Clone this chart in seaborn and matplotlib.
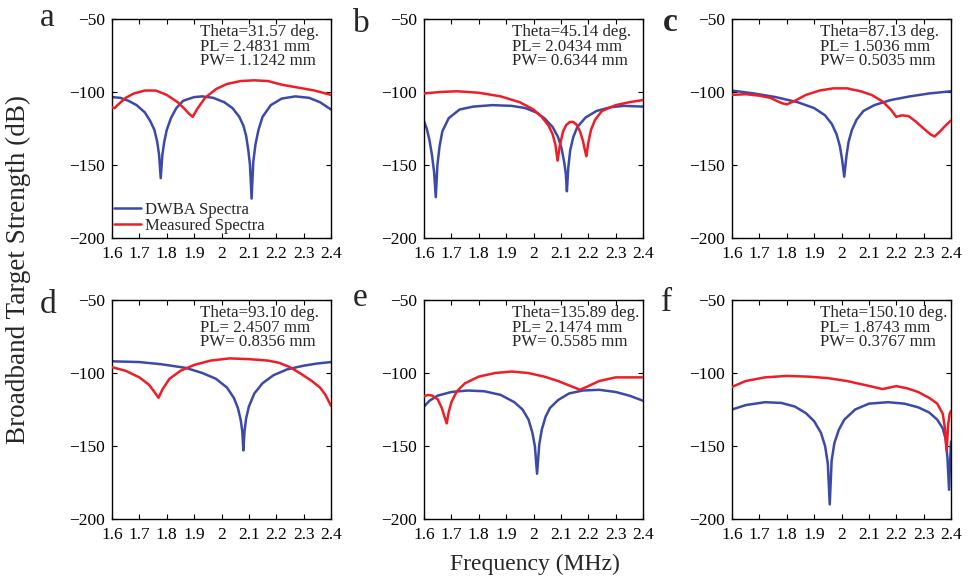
import numpy as np
import pandas as pd
import matplotlib
matplotlib.use("Agg")
import matplotlib.pyplot as plt
import seaborn as sns

# ---------------- data ----------------
panel_letters = ["a", "b", "c", "d", "e", "f"]
theta_deg = ["31.57", "45.14", "87.13", "93.10", "135.89", "150.10"]
pl_mm = ["2.4831", "2.0434", "1.5036", "2.4507", "2.1474", "1.8743"]
pw_mm = ["1.1242", "0.6344", "0.5035", "0.8356", "0.5585", "0.3767"]

x_ticks = [1.6, 1.7, 1.8, 1.9, 2.0, 2.1, 2.2, 2.3, 2.4]
x_tick_labels = ["1.6", "1.7", "1.8", "1.9", "2", "2.1", "2.2", "2.3", "2.4"]
y_ticks = [-200, -150, -100, -50]
y_tick_labels = ["\u2212200", "\u2212150", "\u2212100", "\u221250"]

# panel a
fa_dwba = [1.60, 1.63, 1.66, 1.69, 1.72, 1.74, 1.755, 1.765, 1.772, 1.778, 1.784, 1.791, 1.80, 1.815, 1.835, 1.86, 1.90, 1.93, 1.97, 2.01, 2.04, 2.065, 2.08, 2.09, 2.098, 2.104, 2.110, 2.116, 2.124, 2.135, 2.15, 2.18, 2.22, 2.27, 2.32, 2.36, 2.40]
ta_dwba = [-103.5, -104, -106, -109, -114, -120, -126, -134, -143, -159, -143, -134, -126, -118, -111, -106, -103.5, -103, -104, -107, -111, -117, -123, -130, -140, -150, -173, -148, -136, -126, -117, -109, -104.5, -103, -104, -107, -112]
fa_meas = [1.60, 1.61, 1.62, 1.65, 1.68, 1.72, 1.76, 1.80, 1.84, 1.865, 1.882, 1.895, 1.91, 1.94, 1.98, 2.02, 2.07, 2.12, 2.17, 2.22, 2.28, 2.34, 2.40]
ta_meas = [-110.5, -111, -109, -104, -101, -99, -99, -102, -107, -111.5, -115, -117, -112, -104, -98, -94.5, -92.5, -92, -92.5, -95, -97, -99, -102]

# panel b
fb_dwba = [1.60, 1.61, 1.62, 1.629, 1.637, 1.643, 1.649, 1.657, 1.667, 1.69, 1.73, 1.78, 1.85, 1.92, 1.97, 2.01, 2.04, 2.07, 2.09, 2.103, 2.112, 2.118, 2.122, 2.127, 2.134, 2.145, 2.16, 2.19, 2.23, 2.28, 2.33, 2.40]
tb_dwba = [-120, -125, -133, -143, -155, -172, -150, -137, -127, -118, -112, -110, -109, -109.5, -111, -114, -118, -124, -131, -139, -148, -156, -168, -152, -140, -131, -124, -117.5, -113, -110.5, -109.5, -110]
fb_meas = [1.60, 1.66, 1.72, 1.80, 1.88, 1.95, 2.00, 2.03, 2.055, 2.07, 2.08, 2.088, 2.096, 2.108, 2.12, 2.133, 2.145, 2.158, 2.17, 2.18, 2.188, 2.193, 2.20, 2.21, 2.225, 2.25, 2.30, 2.35, 2.40]
tb_meas = [-101, -100, -99.5, -100.5, -103, -107, -112, -117, -123, -129, -136, -147, -137, -127, -122.5, -120.5, -120.5, -122.5, -127, -133, -140, -144, -135, -126, -119, -113, -109, -107, -105.5]

# panel c
fc_dwba = [1.60, 1.68, 1.76, 1.84, 1.90, 1.94, 1.965, 1.982, 1.994, 2.002, 2.010, 2.018, 2.026, 2.038, 2.055, 2.08, 2.12, 2.18, 2.25, 2.32, 2.40]
tc_dwba = [-99, -101, -103.5, -107, -111, -116, -122, -129, -137, -146, -158, -144, -134, -126, -119, -113, -109, -105.5, -103, -101, -99.5]
fc_meas = [1.60, 1.65, 1.70, 1.74, 1.78, 1.80, 1.83, 1.87, 1.92, 1.97, 2.02, 2.07, 2.11, 2.15, 2.18, 2.20, 2.22, 2.245, 2.27, 2.30, 2.325, 2.34, 2.36, 2.38, 2.40]
tc_meas = [-102, -101.5, -102.5, -104, -107.5, -108.5, -106, -102, -99, -97.5, -97.5, -99.5, -102, -106.5, -112, -117, -116, -116.5, -120, -125, -129, -130.5, -127, -123, -119.5]

# panel d
fd_dwba = [1.60, 1.70, 1.78, 1.87, 1.93, 1.98, 2.02, 2.045, 2.06, 2.07, 2.076, 2.080, 2.084, 2.090, 2.10, 2.12, 2.15, 2.19, 2.24, 2.30, 2.35, 2.40]
td_dwba = [-92, -92.5, -94, -96.5, -100, -104, -110, -117, -124, -132, -140, -153, -140, -131, -123, -114, -107, -101.5, -97.5, -95, -93.5, -92.5]
fd_meas = [1.60, 1.65, 1.70, 1.735, 1.755, 1.770, 1.785, 1.81, 1.85, 1.90, 1.96, 2.03, 2.10, 2.17, 2.21, 2.25, 2.29, 2.33, 2.36, 2.38, 2.40]
td_meas = [-96, -98.5, -103, -108, -113, -117, -111, -104, -98.5, -94.5, -91.5, -90, -90.5, -91.5, -93, -96, -100.5, -105.5, -110, -115, -122.5]

# panel e
fe_dwba = [1.60, 1.62, 1.65, 1.70, 1.76, 1.82, 1.88, 1.93, 1.96, 1.982, 1.996, 2.005, 2.013, 2.021, 2.030, 2.044, 2.06, 2.09, 2.13, 2.18, 2.24, 2.30, 2.35, 2.40]
te_dwba = [-123, -119, -115.5, -113, -112, -112.5, -115, -120, -125, -132, -141, -150, -169, -149, -139, -130, -124, -118.5, -114, -112, -111.5, -113, -115.5, -119]
fe_meas = [1.60, 1.615, 1.63, 1.65, 1.665, 1.675, 1.683, 1.69, 1.70, 1.72, 1.75, 1.80, 1.86, 1.92, 1.98, 2.04, 2.09, 2.13, 2.17, 2.20, 2.24, 2.30, 2.40]
te_meas = [-116, -115, -115.5, -118, -124, -130, -134.5, -127, -120, -112.5, -107, -102.5, -100, -99, -100, -102.5, -105.5, -108.5, -111.5, -109, -105.5, -103, -103]

# panel f
ff_dwba = [1.60, 1.65, 1.72, 1.78, 1.83, 1.87, 1.90, 1.925, 1.94, 1.950, 1.957, 1.964, 1.974, 1.99, 2.01, 2.05, 2.10, 2.17, 2.23, 2.28, 2.32, 2.35, 2.37, 2.38, 2.387, 2.393, 2.397, 2.40]
tf_dwba = [-125, -122, -120, -120.5, -123, -127.5, -133, -141, -150, -162, -190, -160, -148, -139, -132, -125, -121, -120, -121, -123.5, -127, -132, -138, -145, -158, -180, -160, -147]
ff_meas = [1.60, 1.65, 1.72, 1.80, 1.88, 1.95, 2.02, 2.08, 2.15, 2.20, 2.24, 2.28, 2.32, 2.35, 2.37, 2.378, 2.384, 2.39, 2.395, 2.40]
tf_meas = [-109.5, -105.5, -103, -102, -102.5, -103.5, -105.5, -108, -111, -109, -110.5, -113, -117, -121, -128, -138, -153, -135, -128, -126]

dwba_freqs = [fa_dwba, fb_dwba, fc_dwba, fd_dwba, fe_dwba, ff_dwba]
dwba_ts = [ta_dwba, tb_dwba, tc_dwba, td_dwba, te_dwba, tf_dwba]
meas_freqs = [fa_meas, fb_meas, fc_meas, fd_meas, fe_meas, ff_meas]
meas_ts = [ta_meas, tb_meas, tc_meas, td_meas, te_meas, tf_meas]

BLUE = "#3b4aa8"
RED = "#ee1d26"

# ---------------- style ----------------
sns.set_theme(style="ticks")
plt.rcParams["font.family"] = ["Liberation Serif", "DejaVu Serif"]
plt.rcParams["axes.unicode_minus"] = True

fig = plt.figure(figsize=(9.73, 5.77), dpi=100)

W, H = 973.0, 577.0
lefts = [112, 424, 732]
tops = [19, 300]
aw, ah = 219, 219
# panel-letter positions (left x, baseline y) in pixels
letter_pos = [(40, 26), (353, 32), (663, 31), (40, 313), (353, 306), (661, 311)]

for i in range(6):
    r, c = divmod(i, 3)
    ax = fig.add_axes([lefts[c] / W, 1 - (tops[r] + ah) / H, aw / W, ah / H])
    df_d = pd.DataFrame({"freq": dwba_freqs[i], "ts": dwba_ts[i]})
    df_m = pd.DataFrame({"freq": meas_freqs[i], "ts": meas_ts[i]})
    sns.lineplot(data=df_d, x="freq", y="ts", ax=ax, color=BLUE, lw=1.8,
                 estimator=None, sort=False, label="DWBA Spectra", zorder=2)
    sns.lineplot(data=df_m, x="freq", y="ts", ax=ax, color=RED, lw=1.8,
                 estimator=None, sort=False, label="Measured Spectra", zorder=3)
    ax.set_xlim(1.6, 2.4)
    ax.set_ylim(-200, -50)
    ax.set_xticks(x_ticks)
    ax.set_xticklabels(x_tick_labels)
    ax.set_yticks(y_ticks)
    ax.set_yticklabels(y_tick_labels)
    ax.tick_params(direction="in", top=True, right=True, length=3.5, width=0.8,
                   labelsize=12.5, colors="black")
    ax.tick_params(axis="x", pad=6)
    ax.tick_params(axis="y", pad=5)
    ax.set_xlabel("")
    ax.set_ylabel("")
    for sp in ax.spines.values():
        sp.set_linewidth(1.0)
        sp.set_color("black")
    ax.text(0.40, 0.978,
            f"Theta={theta_deg[i]} deg.\nPL= {pl_mm[i]} mm\nPW= {pw_mm[i]} mm",
            transform=ax.transAxes, ha="left", va="top", fontsize=12.2,
            linespacing=0.9)
    if i == 0:
        ax.legend(loc="lower left", bbox_to_anchor=(-0.005, 0.005), frameon=False,
                  fontsize=12, handlelength=1.6, handletextpad=0.25,
                  labelspacing=0.0, borderaxespad=0.0, borderpad=0.2)
    else:
        lg = ax.get_legend()
        if lg is not None:
            lg.remove()
    lx, ly = letter_pos[i]
    fig.text(lx / W, 1 - ly / H, panel_letters[i], fontsize=24,
             ha="left", va="baseline", fontweight="bold" if i == 2 else "normal")

fig.text(18 / W, 1 - 269 / H, "Broadband Target Strength (dB)",
         rotation=90, ha="center", va="center", fontsize=19.5)
fig.text(535 / W, 1 - 564 / H, "Frequency (MHz)", ha="center", va="center", fontsize=17)

fig.savefig("out.png", dpi=100)
